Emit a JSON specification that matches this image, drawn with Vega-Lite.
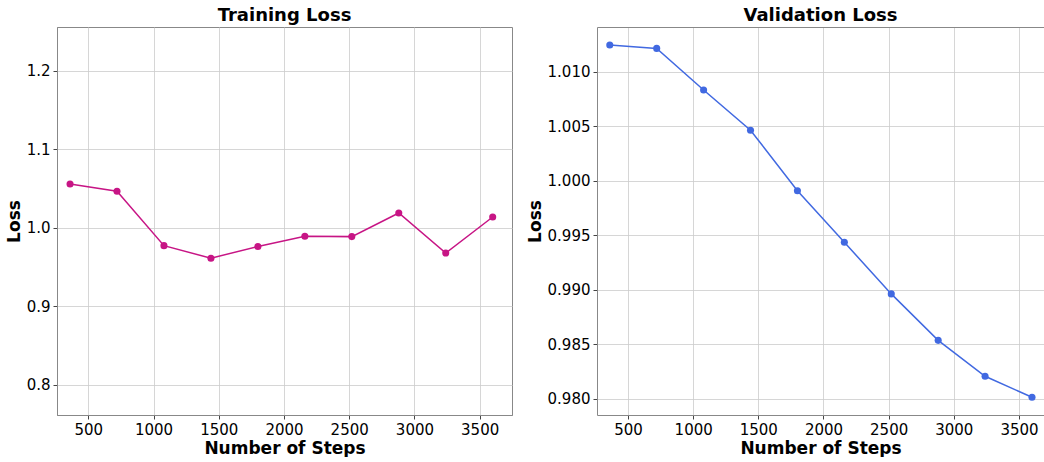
{
  "$schema": "https://vega.github.io/schema/vega-lite/v6.json",
  "padding": {"left": 4, "top": 6, "right": 0, "bottom": 0},
  "background": "white",
  "datasets": {
    "train": [
      {"step": 360, "loss": 1.0555},
      {"step": 720, "loss": 1.0463},
      {"step": 1080, "loss": 0.977},
      {"step": 1440, "loss": 0.961},
      {"step": 1800, "loss": 0.976},
      {"step": 2160, "loss": 0.989},
      {"step": 2520, "loss": 0.9885},
      {"step": 2880, "loss": 1.0186},
      {"step": 3240, "loss": 0.9676},
      {"step": 3600, "loss": 1.0135}
    ],
    "val": [
      {"step": 360, "loss": 1.01244},
      {"step": 720, "loss": 1.01213},
      {"step": 1080, "loss": 1.00832},
      {"step": 1440, "loss": 1.00463},
      {"step": 1800, "loss": 0.99909},
      {"step": 2160, "loss": 0.99436},
      {"step": 2520, "loss": 0.98963},
      {"step": 2880, "loss": 0.98537},
      {"step": 3240, "loss": 0.98208},
      {"step": 3600, "loss": 0.98016}
    ]
  },
  "spacing": 85,
  "bounds": "flush",
  "hconcat": [
    {
      "width": 455,
      "height": 388,
      "title": {"text": "Training Loss", "frame": "group"},
      "data": {"name": "train"},
      "layer": [
        {
          "mark": {"type": "line", "color": "#C71585", "strokeWidth": 1.5},
          "encoding": {
            "x": {"field": "step", "type": "quantitative", "title": "Number of Steps",
                  "scale": {"domain": [260, 3748], "nice": false, "zero": false},
                  "axis": {"values": [500, 1000, 1500, 2000, 2500, 3000, 3500], "format": "d"}},
            "y": {"field": "loss", "type": "quantitative", "title": "Loss",
                  "scale": {"domain": [0.7613, 1.2555], "nice": false, "zero": false},
                  "axis": {"values": [0.8, 0.9, 1.0, 1.1, 1.2], "format": ".1f"}}
          }
        },
        {
          "mark": {"type": "point", "filled": true, "opacity": 1, "size": 50, "color": "#C71585"},
          "encoding": {
            "x": {"field": "step", "type": "quantitative"},
            "y": {"field": "loss", "type": "quantitative"}
          }
        }
      ]
    },
    {
      "width": 447,
      "height": 388,
      "title": {"text": "Validation Loss", "frame": "group"},
      "view": {"stroke": null},
      "data": {"name": "val"},
      "layer": [
        {
          "mark": {"type": "line", "color": "#4169E1", "strokeWidth": 1.5},
          "encoding": {
            "x": {"field": "step", "type": "quantitative", "title": "Number of Steps",
                  "scale": {"domain": [262, 3692], "nice": false, "zero": false},
                  "axis": {"values": [500, 1000, 1500, 2000, 2500, 3000, 3500], "format": "d"}},
            "y": {"field": "loss", "type": "quantitative", "title": "Loss",
                  "scale": {"domain": [0.97853, 1.01409], "nice": false, "zero": false},
                  "axis": {"values": [0.98, 0.985, 0.99, 0.995, 1.0, 1.005, 1.01], "format": ".3f"}}
          }
        },
        {
          "mark": {"type": "point", "filled": true, "opacity": 1, "size": 50, "color": "#4169E1"},
          "encoding": {
            "x": {"field": "step", "type": "quantitative",
                  "axis": {"orient": "top", "labels": false, "ticks": false, "grid": false, "title": null, "domain": true}},
            "y": {"field": "loss", "type": "quantitative"}
          }
        }
      ],
      "resolve": {"axis": {"x": "independent"}}
    }
  ],
  "config": {
    "font": "DejaVu Sans",
    "view": {"stroke": "#888888", "strokeWidth": 1},
    "title": {"fontSize": 18, "fontWeight": "bold", "color": "#000000", "offset": 2, "anchor": "middle"},
    "axis": {
      "labelFont": "DejaVu Sans",
      "labelFontSize": 15,
      "labelColor": "#000000",
      "titleFont": "DejaVu Sans",
      "titleFontSize": 17,
      "titleFontWeight": "bold",
      "titleColor": "#000000",
      "gridColor": "#cccccc",
      "gridWidth": 0.8,
      "domainColor": "#888888",
      "tickColor": "#444444",
      "tickSize": 4,
      "labelPadding": 3,
      "titlePadding": 3,
      "labelFlush": false,
      "labelOverlap": false
    }
  }
}
